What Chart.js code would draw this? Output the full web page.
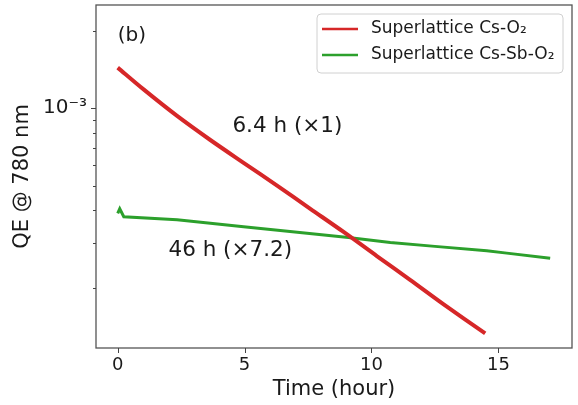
<!DOCTYPE html>
<html>
<head>
<meta charset="utf-8">
<script src="https://cdn.jsdelivr.net/npm/chart.js@4"></script>
<style>
  html, body { margin: 0; padding: 0; background: #fff; }
  #wrap { width: 578px; height: 405px; }
</style>
</head>
<body>
<div id="wrap"><canvas id="chart"></canvas></div>
<script>
// Data (time in hours, QE)
const csoTime = [0, 1.02, 2.34, 3.65, 4.96, 6.28, 7.59, 8.90, 10.21, 11.52, 12.83, 14.48];
const csoQE = [1.438e-3, 1.183e-3, 9.33e-4, 7.52e-4, 6.13e-4, 5.00e-4, 4.06e-4, 3.30e-4, 2.66e-4, 2.15e-4, 1.73e-4, 1.33e-4];

const cssbTime = [0, 0.08, 0.24, 2.34, 4.96, 6.79, 9.09, 10.74, 12.5, 14.54, 15.33, 17.04];
const cssbQE = [3.90e-4, 4.06e-4, 3.78e-4, 3.68e-4, 3.46e-4, 3.31e-4, 3.14e-4, 3.0e-4, 2.90e-4, 2.79e-4, 2.73e-4, 2.61e-4];

const xTicks = [0, 5, 10, 15];
const yTicks = [2e-4, 3e-4, 4e-4, 5e-4, 6e-4, 7e-4, 8e-4, 9e-4, 1e-3, 2e-3];
const yMajor = [1e-3];

const seriesLabels = ['Superlattice Cs-O\u2082', 'Superlattice Cs-Sb-O\u2082'];
const seriesColors = ['#d62728', '#2ca02c'];

// text labels placed in data coordinates
const notes = [
    { text: '(b)', x: 0, y: 1.91e-3 },
    { text: '6.4 h (\u00d71)', x: 4.52, y: 8.53e-4 },
    { text: '46 h (\u00d77.2)', x: 2.0, y: 2.80e-4 }
];

const FONT = "'DejaVu Sans', sans-serif";

function toPoints(xs, ys) {
    return xs.map((x, i) => ({ x: x, y: ys[i] }));
}

// Frame, tick marks, legend and notes
const decorPlugin = {
    id: 'decor',
    afterDraw(chart) {
        const ctx = chart.ctx;
        const area = chart.chartArea;
        const xs = chart.scales.x;
        const ys = chart.scales.y;
        ctx.save();

        // frame
        ctx.strokeStyle = '#555';
        ctx.lineWidth = 1.3;
        ctx.strokeRect(area.left, area.top, area.right - area.left, area.bottom - area.top);

        // ticks
        ctx.strokeStyle = '#444';
        ctx.lineWidth = 1;
        xTicks.forEach(v => {
            const px = Math.round(xs.getPixelForValue(v)) + 0.5;
            ctx.beginPath();
            ctx.moveTo(px, area.bottom);
            ctx.lineTo(px, area.bottom + 5);
            ctx.stroke();
        });
        yTicks.forEach(v => {
            const py = Math.round(ys.getPixelForValue(v)) + 0.5;
            const len = yMajor.includes(v) ? 5 : 3;
            ctx.beginPath();
            ctx.moveTo(area.left, py);
            ctx.lineTo(area.left - len, py);
            ctx.stroke();
        });

        // notes
        ctx.fillStyle = '#1a1a1a';
        ctx.textAlign = 'left';
        ctx.textBaseline = 'middle';
        notes.forEach((n, i) => {
            ctx.font = (i === 0 ? '20px ' : '21.5px ') + FONT;
            ctx.fillText(n.text, xs.getPixelForValue(n.x), ys.getPixelForValue(n.y));
        });

        // legend box
        const bx = 317, by = 14, bw = 246, bh = 59, r = 4;
        ctx.beginPath();
        ctx.moveTo(bx + r, by);
        ctx.arcTo(bx + bw, by, bx + bw, by + bh, r);
        ctx.arcTo(bx + bw, by + bh, bx, by + bh, r);
        ctx.arcTo(bx, by + bh, bx, by, r);
        ctx.arcTo(bx, by, bx + bw, by, r);
        ctx.closePath();
        ctx.fillStyle = 'rgba(255,255,255,0.8)';
        ctx.fill();
        ctx.strokeStyle = '#d0d0d0';
        ctx.lineWidth = 1;
        ctx.stroke();

        ctx.font = '17px ' + FONT;
        chart.data.datasets.forEach((ds, i) => {
            const ly = by + 15 + i * 26;
            ctx.strokeStyle = ds.borderColor;
            ctx.lineWidth = 2.5;
            ctx.beginPath();
            ctx.moveTo(322, ly);
            ctx.lineTo(358, ly);
            ctx.stroke();
            ctx.fillStyle = '#1a1a1a';
            ctx.fillText(ds.label, 371, ly);
        });

        ctx.restore();
    }
};

const chart = new Chart(document.getElementById('chart'), {
    type: 'line',
    data: {
        datasets: [
            {
                label: seriesLabels[0],
                data: toPoints(csoTime, csoQE),
                borderColor: seriesColors[0],
                borderWidth: 4,
                pointRadius: 0,
                tension: 0.3
            },
            {
                label: seriesLabels[1],
                data: toPoints(cssbTime, cssbQE),
                borderColor: seriesColors[1],
                borderWidth: 3,
                pointRadius: 0,
                tension: 0
            }
        ]
    },
    options: {
        responsive: true,
        maintainAspectRatio: false,
        animation: false,
        layout: { padding: { left: 0, right: 6, top: 5, bottom: 0 } },
        plugins: {
            legend: { display: false },
            tooltip: { enabled: false }
        },
        scales: {
            x: {
                type: 'linear',
                min: -0.855,
                max: 17.9,
                afterBuildTicks: (scale) => { scale.ticks = xTicks.map(v => ({ value: v })); },
                afterFit: (scale) => { scale.height = 57; },
                grid: { display: false, drawTicks: false },
                border: { display: false },
                ticks: {
                    autoSkip: false,
                    maxRotation: 0,
                    padding: 7,
                    color: '#1a1a1a',
                    font: { family: FONT, size: 18 }
                },
                title: {
                    display: true,
                    text: 'Time (hour)',
                    color: '#1a1a1a',
                    padding: { top: 0, bottom: 3 },
                    font: { family: FONT, size: 21 }
                }
            },
            y: {
                type: 'logarithmic',
                min: 1.167e-4,
                max: 2.52e-3,
                afterBuildTicks: (scale) => { scale.ticks = yTicks.map(v => ({ value: v })); },
                afterFit: (scale) => {
                    scale.width = 96;
                    scale.paddingTop = 0;
                    scale.paddingBottom = 0;
                },
                grid: { display: false, drawTicks: false },
                border: { display: false },
                ticks: {
                    autoSkip: false,
                    padding: 9,
                    color: '#1a1a1a',
                    font: { family: FONT, size: 20 },
                    callback: (value) => yMajor.some(m => Math.abs(value - m) < 1e-9) ? '10\u207b\u00b3' : ''
                },
                title: {
                    display: true,
                    text: 'QE @ 780 nm',
                    color: '#1a1a1a',
                    padding: { top: 10, bottom: 0 },
                    font: { family: FONT, size: 21 }
                }
            }
        }
    },
    plugins: [decorPlugin]
});
</script>
</body>
</html>
